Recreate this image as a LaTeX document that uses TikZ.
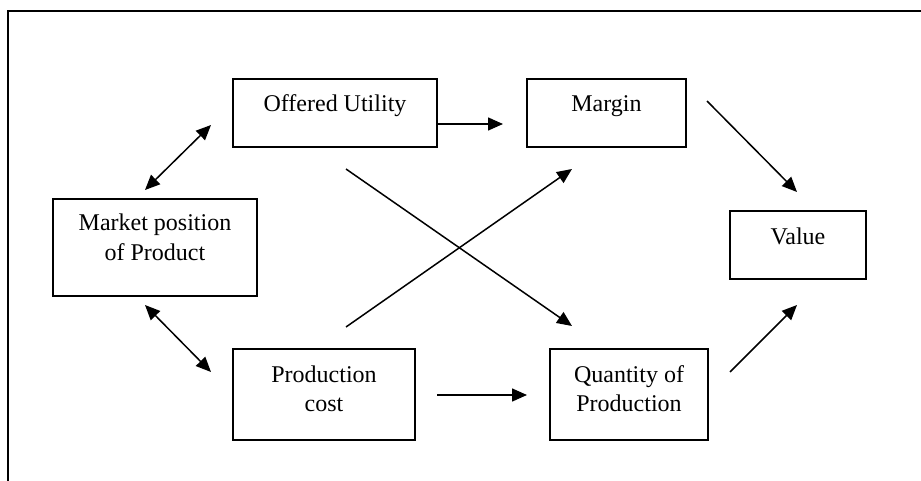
\documentclass[tikz,border=0pt]{standalone}
\usepackage{fontspec}
\setmainfont{Liberation Serif}
\usetikzlibrary{arrows.meta}
\begin{document}
\begin{tikzpicture}[x=1pt,y=-1pt,
  box/.style={draw, line width=1.8pt, inner sep=0pt},
  lbl/.style={anchor=base, inner sep=0pt, font=\fontsize{24}{29}\selectfont},
  tip/.style={Triangle[length=15pt,width=13pt]},
  conn/.style={line width=1.5pt, -{Triangle[length=15pt,width=13pt]}},
  dconn/.style={line width=1.5pt, {Triangle[length=15pt,width=13pt]}-{Triangle[length=15pt,width=13pt]}}]
\useasboundingbox (0,0) rectangle (921,481);
\draw[line width=2pt] (8,481) -- (8,11) -- (921,11);
% boxes
\node[box, minimum width=204pt, minimum height=68pt] (ou) at (335,113) {};
\node[box, minimum width=159pt, minimum height=68pt] (mg) at (606.5,113) {};
\node[box, minimum width=204pt, minimum height=97pt] (mp) at (155,247.5) {};
\node[box, minimum width=182pt, minimum height=91pt] (pc) at (324,394.5) {};
\node[box, minimum width=158pt, minimum height=91pt] (qp) at (629,394.5) {};
\node[box, minimum width=136pt, minimum height=68pt] (va) at (798,245) {};
% labels
\node[lbl] (tou) at (335,112) {Offered Utility};
\node[lbl] (tmg) at (606.5,112) {Margin};
\node[lbl] (tva) at (798,244) {Value};
\node[lbl] (tmp) at (155,231) {\begin{tabular}[t]{@{}c@{}}Market position\\of Product\end{tabular}};
\node[lbl] (tpc) at (324,382) {\begin{tabular}[t]{@{}c@{}}Production\\cost\end{tabular}};
\node[lbl] (tqp) at (629,382) {\begin{tabular}[t]{@{}c@{}}Quantity of\\Production\end{tabular}};
% connector end points
\coordinate (a1) at (145,190); \coordinate (a2) at (211,125);
\coordinate (b1) at (145,305); \coordinate (b2) at (211,372);
\coordinate (c1) at (437,124); \coordinate (c2) at (503,124);
\coordinate (d1) at (437,395); \coordinate (d2) at (527,395);
\coordinate (e1) at (346,327); \coordinate (e2) at (572,169);
\coordinate (f1) at (346,169); \coordinate (f2) at (572,326);
\coordinate (g1) at (707,101); \coordinate (g2) at (797,192);
\coordinate (h1) at (730,372); \coordinate (h2) at (797,305);
% connectors
\draw[dconn] (a1) -- (a2);
\draw[dconn] (b1) -- (b2);
\draw[conn] (c1) -- (c2);
\draw[conn] (d1) -- (d2);
\draw[conn] (e1) -- (e2);
\draw[conn] (f1) -- (f2);
\draw[conn] (g1) -- (g2);
\draw[conn] (h1) -- (h2);
\end{tikzpicture}
\end{document}
